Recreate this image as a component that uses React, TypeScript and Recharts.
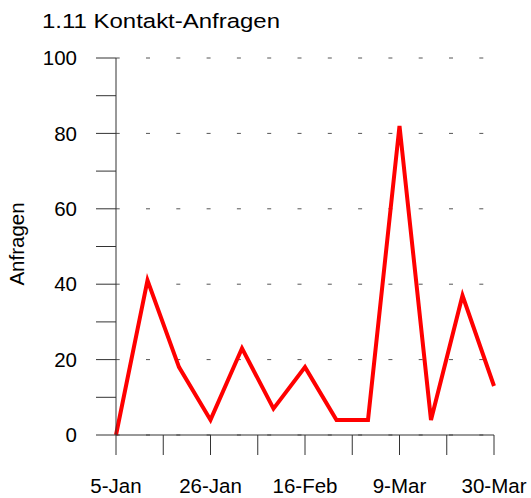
import { LineChart, Line, XAxis, YAxis, CartesianGrid } from "recharts";

const weeks = ["5-Jan", "12-Jan", "19-Jan", "26-Jan", "2-Feb", "9-Feb", "16-Feb", "23-Feb", "2-Mar", "9-Mar", "16-Mar", "23-Mar", "30-Mar"];
const anfragen = [0, 41, 18, 4, 23, 7, 18, 4, 4, 82, 4, 37, 13];
const xTicks = [0, 10.5, 21, 31.5, 42, 52.5, 63, 73.5, 84];
const xTickLabels: Record<number, string> = { 0: "5-Jan", 21: "26-Jan", 42: "16-Feb", 63: "9-Mar", 84: "30-Mar" };
const yTicks = [0, 10, 20, 30, 40, 50, 60, 70, 80, 90, 100];
const yMajor = [0, 20, 40, 60, 80, 100];

const data = weeks.map((w, i) => ({ week: w, day: i * 7, value: anfragen[i] }));

const FONT = "'Liberation Sans', Arial, sans-serif";
const AXIS = "#333";

function YTick({ x, y, payload }: any) {
  const v = payload.value;
  const major = v % 20 === 0;
  return (
    <g>
      <line x1={x - 20} x2={x} y1={y} y2={y} stroke={AXIS} />
      {major && (
        <text x={x - 39} y={y} dy="0.35em" textAnchor="end" fontSize={20.5} fontFamily={FONT} fill="#000">
          {v}
        </text>
      )}
    </g>
  );
}

function XTick({ x, y, payload }: any) {
  const label = xTickLabels[payload.value];
  return (
    <g>
      <line x1={x} x2={x} y1={y} y2={y + 20} stroke={AXIS} />
      {label && (
        <text x={x} y={y + 58} textAnchor="middle" fontSize={20.5} fontFamily={FONT} fill="#000">
          {label}
        </text>
      )}
    </g>
  );
}

export default function App() {
  return (
    <div style={{ position: "absolute", left: 0, top: 0, width: 531, height: 498 }}>
      <LineChart width={531} height={498} data={data} margin={{ top: 58, right: 37, left: 0, bottom: 0 }}>
        <CartesianGrid
          vertical={false}
          horizontalValues={yMajor}
          stroke="#555"
          strokeDasharray="4 26.3"
          strokeDashoffset={0.3}
        />
        <XAxis
          type="number"
          dataKey="day"
          domain={[0, 84]}
          ticks={xTicks}
          interval={0}
          height={63}
          tickSize={0}
          tickMargin={0}
          tickLine={false}
          axisLine={{ stroke: AXIS }}
          tick={(p: any) => <XTick {...p} />}
        />
        <YAxis
          type="number"
          domain={[0, 100]}
          ticks={yTicks}
          interval={0}
          width={116}
          tickSize={0}
          tickMargin={0}
          tickLine={false}
          axisLine={{ stroke: AXIS }}
          tick={(p: any) => <YTick {...p} />}
        />
        <Line
          type="linear"
          dataKey="value"
          stroke="#ff0000"
          strokeWidth={4}
          dot={false}
          isAnimationActive={false}
        />
      </LineChart>
      <svg width={531} height={498} style={{ position: "absolute", left: 0, top: 0, pointerEvents: "none" }}>
        <text x={42} y={28} fontSize={20.5} fontFamily={FONT} fill="#000" textLength={238} lengthAdjust="spacingAndGlyphs">
          1.11 Kontakt-Anfragen
        </text>
        <text x={24} y={244} fontSize={20.5} fontFamily={FONT} fill="#000" textAnchor="middle" transform="rotate(-90, 24, 244)">
          Anfragen
        </text>
      </svg>
    </div>
  );
}
